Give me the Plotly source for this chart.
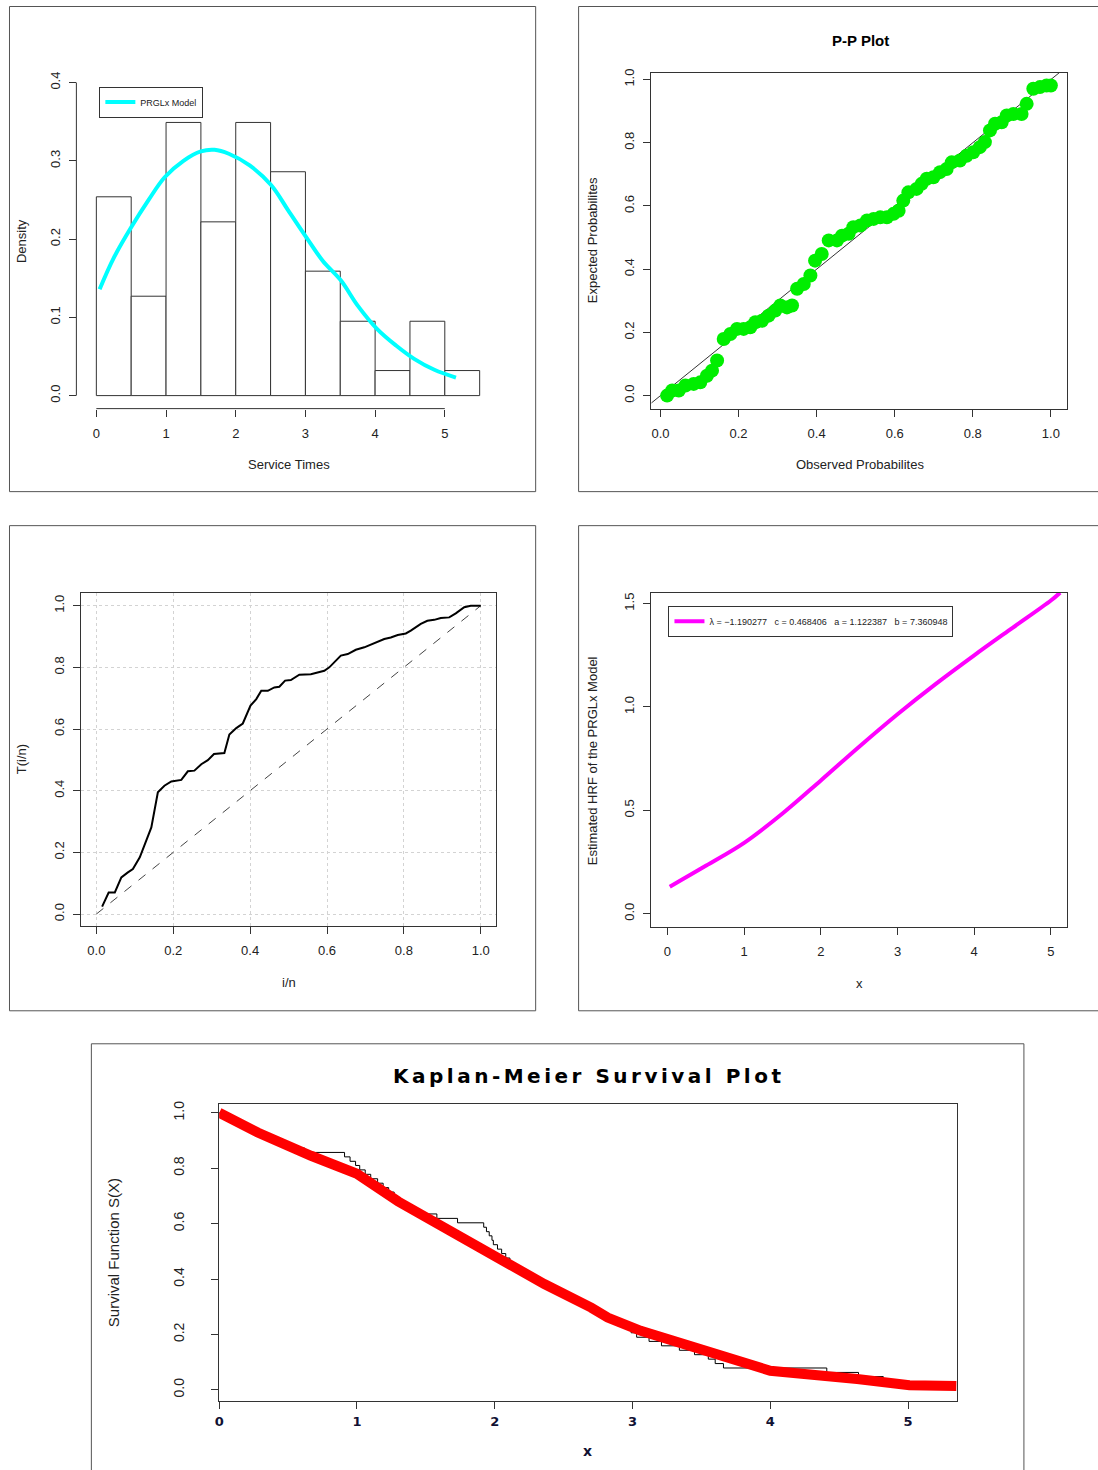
import plotly.graph_objects as go

W, H = 1098, 1470

# ---------------- data ----------------
# Histogram (Service Times), bin width 0.5
hist_left = [0.0, 0.5, 1.0, 1.5, 2.0, 2.5, 3.0, 3.5, 4.0, 4.5, 5.0]
hist_density = [0.254, 0.127, 0.349, 0.222, 0.349, 0.286, 0.159, 0.095, 0.032, 0.095, 0.032]
pdf_x = [0.047, 0.25, 0.5, 0.75, 0.98, 1.25, 1.5, 1.695, 1.9, 2.2, 2.507, 2.75, 3.03, 3.25, 3.51, 3.75, 4.03, 4.3, 4.56, 4.85, 5.16]
pdf_y = [0.136, 0.176, 0.215, 0.250, 0.279, 0.300, 0.312, 0.314, 0.309, 0.294, 0.269, 0.237, 0.200, 0.172, 0.147, 0.115, 0.085, 0.064, 0.047, 0.033, 0.023]

# P-P plot
pp_obs = [0.017, 0.030, 0.047, 0.064, 0.085, 0.102, 0.119, 0.132, 0.145, 0.162, 0.179, 0.196, 0.213,
          0.230, 0.243, 0.260, 0.277, 0.294, 0.307, 0.324, 0.337, 0.350, 0.367, 0.384, 0.396, 0.413,
          0.431, 0.452, 0.465, 0.482, 0.494, 0.512, 0.529, 0.546, 0.563, 0.580, 0.597, 0.610, 0.622,
          0.635, 0.656, 0.669, 0.682, 0.699, 0.716, 0.733, 0.746, 0.767, 0.784, 0.801, 0.818, 0.831,
          0.844, 0.857, 0.874, 0.887, 0.904, 0.925, 0.938, 0.955, 0.972, 0.989, 1.000]
pp_exp = [0.000, 0.016, 0.016, 0.032, 0.037, 0.042, 0.063, 0.079, 0.111, 0.179, 0.195, 0.211, 0.211,
          0.216, 0.232, 0.237, 0.253, 0.269, 0.285, 0.279, 0.285, 0.338, 0.353, 0.380, 0.427, 0.448,
          0.491, 0.491, 0.506, 0.512, 0.533, 0.538, 0.554, 0.559, 0.564, 0.564, 0.575, 0.585, 0.617,
          0.643, 0.654, 0.670, 0.686, 0.691, 0.707, 0.717, 0.738, 0.744, 0.759, 0.770, 0.786, 0.802,
          0.839, 0.860, 0.865, 0.886, 0.891, 0.891, 0.923, 0.971, 0.976, 0.981, 0.981]
diag_ends = [-0.1, 1.1]

# TTT plot
ttt_x = [0.015, 0.032, 0.048, 0.065, 0.082, 0.095, 0.113, 0.130, 0.143, 0.160, 0.177, 0.195, 0.221,
         0.238, 0.255, 0.273, 0.290, 0.306, 0.333, 0.346, 0.364, 0.381, 0.401, 0.416, 0.429, 0.446,
         0.463, 0.476, 0.491, 0.506, 0.528, 0.558, 0.580, 0.593, 0.606, 0.636, 0.654, 0.675, 0.697,
         0.714, 0.732, 0.749, 0.766, 0.784, 0.805, 0.818, 0.844, 0.861, 0.879, 0.896, 0.918, 0.935,
         0.957, 0.974, 1.000]
ttt_y = [0.024, 0.070, 0.070, 0.119, 0.135, 0.146, 0.184, 0.238, 0.281, 0.395, 0.416, 0.430, 0.435,
         0.463, 0.465, 0.486, 0.499, 0.519, 0.522, 0.582, 0.603, 0.618, 0.676, 0.697, 0.724, 0.724,
         0.735, 0.737, 0.757, 0.759, 0.776, 0.778, 0.786, 0.789, 0.800, 0.838, 0.843, 0.857, 0.865,
         0.874, 0.881, 0.892, 0.897, 0.905, 0.910, 0.919, 0.941, 0.951, 0.954, 0.960, 0.962, 0.975,
         0.995, 1.000, 1.000]
ttt_ref = [0.0, 1.0]

# Hazard rate function
hrf_x = [0.03, 0.5, 1.0, 1.5, 2.0, 2.5, 3.0, 3.5, 4.0, 4.5, 5.0, 5.12]
hrf_y = [0.131, 0.232, 0.343, 0.485, 0.645, 0.808, 0.965, 1.112, 1.250, 1.383, 1.515, 1.553]
hrf_label = "λ = −1.190277   c = 0.468406   a = 1.122387   b = 7.360948"

# Kaplan-Meier (empirical) survival
km_time = [0.00, 0.04, 0.10, 0.16, 0.22, 0.28, 0.32, 0.40, 0.49, 0.62, 0.91, 0.95, 0.99,
           1.02, 1.06, 1.10, 1.15, 1.19, 1.23, 1.27, 1.29, 1.30, 1.40, 1.46,
           1.58, 1.73, 1.92, 1.94, 1.96, 1.98, 1.99,
           2.02, 2.05, 2.08, 2.11, 2.14, 2.19, 2.24, 2.29, 2.35, 2.42, 2.48,
           2.54, 2.59, 2.64, 2.70, 2.76, 2.82, 2.89, 2.95, 2.99,
           3.03, 3.12, 3.21, 3.34, 3.45, 3.55, 3.60, 3.66,
           4.41, 4.64, 4.82, 4.95, 5.14]
km_surv = [1.000, 0.984, 0.968, 0.952, 0.937, 0.921, 0.905, 0.889, 0.873, 0.857, 0.841, 0.825, 0.810,
           0.794, 0.778, 0.762, 0.746, 0.730, 0.714, 0.698, 0.683, 0.667, 0.651, 0.635,
           0.619, 0.603, 0.587, 0.571, 0.556, 0.540, 0.524,
           0.508, 0.492, 0.476, 0.460, 0.444, 0.429, 0.413, 0.397, 0.381, 0.365, 0.349,
           0.333, 0.317, 0.302, 0.286, 0.270, 0.254, 0.238, 0.222, 0.206,
           0.190, 0.175, 0.159, 0.143, 0.127, 0.111, 0.095, 0.079,
           0.063, 0.048, 0.032, 0.016, 0.000]
fit_x = [0.0, 0.28, 0.667, 1.0, 1.3, 1.63, 2.0, 2.36, 2.70, 2.82, 3.06, 3.66, 4.0, 4.63, 5.01, 5.35]
fit_y = [1.0, 0.929, 0.845, 0.780, 0.680, 0.586, 0.478, 0.382, 0.297, 0.261, 0.213, 0.117, 0.069, 0.039, 0.017, 0.014]

# tick labels
hist_xticks = [0, 1, 2, 3, 4, 5]
hist_yticks = [0.0, 0.1, 0.2, 0.3, 0.4]
prob_ticks = [0.0, 0.2, 0.4, 0.6, 0.8, 1.0]
hrf_xticks = [0, 1, 2, 3, 4, 5]
hrf_yticks = [0.0, 0.5, 1.0, 1.5]
km_xticks = [0, 1, 2, 3, 4, 5]
km_yticks = [0.0, 0.2, 0.4, 0.6, 0.8, 1.0]

# ---------------- helpers ----------------
# small correction of the page placement observed in the rendered screenshot
OFF, SC = 3.5, 0.997

def fx(px):
    return ((px - OFF) / SC) / W

def fy(py):
    return 1 - ((py - OFF) / SC) / H

def rng(p_lo, p_hi, p0, unit):
    return [(p_lo - p0) / unit, (p_hi - p0) / unit]

def rngy(py_bottom, py_top, p0, unit):
    return [(p0 - py_bottom) / unit, (p0 - py_top) / unit]

FONT = "Liberation Sans, Arial, sans-serif"
TXT = "#222222"
tickfont = dict(family=FONT, size=13, color=TXT)

fig = go.Figure()

# ---- Panel 1: histogram ----
fig.add_trace(go.Bar(x=[v + 0.25 for v in hist_left], y=hist_density, width=0.5,
                     marker=dict(color="white", line=dict(color="#333333", width=1)),
                     showlegend=False, xaxis="x", yaxis="y"))
fig.add_trace(go.Scatter(x=pdf_x, y=pdf_y, mode="lines", line=dict(color="#00FFFF", width=4, shape="spline"),
                         name="PRGLx Model", legend="legend", xaxis="x", yaxis="y"))

# ---- Panel 2: P-P ----
fig.add_trace(go.Scatter(x=diag_ends, y=diag_ends, mode="lines", line=dict(color="#333333", width=1),
                         showlegend=False, xaxis="x2", yaxis="y2"))
fig.add_trace(go.Scatter(x=pp_obs, y=pp_exp, mode="markers",
                         marker=dict(color="#00EE00", size=14, line=dict(width=0)),
                         showlegend=False, xaxis="x2", yaxis="y2"))

# ---- Panel 3: TTT ----
fig.add_trace(go.Scatter(x=ttt_ref, y=ttt_ref, mode="lines", line=dict(color="#444444", width=1, dash="dash"),
                         showlegend=False, xaxis="x3", yaxis="y3"))
fig.add_trace(go.Scatter(x=ttt_x, y=ttt_y, mode="lines", line=dict(color="#000000", width=2),
                         showlegend=False, xaxis="x3", yaxis="y3"))

# ---- Panel 4: HRF ----
fig.add_trace(go.Scatter(x=hrf_x, y=hrf_y, mode="lines", line=dict(color="#FF00FF", width=4, shape="spline"),
                         name=hrf_label, legend="legend2", xaxis="x4", yaxis="y4"))

# ---- Panel 5: KM ----
fig.add_trace(go.Scatter(x=km_time, y=km_surv, mode="lines", line=dict(color="#000000", width=1, shape="hv"),
                         showlegend=False, xaxis="x5", yaxis="y5"))
fig.add_trace(go.Scatter(x=fit_x, y=fit_y, mode="lines", line=dict(color="#FF0000", width=10),
                         showlegend=False, xaxis="x5", yaxis="y5"))

common_ax = dict(showgrid=False, zeroline=False, ticks="outside", ticklen=7, tickwidth=1,
                 tickcolor="#333333", tickfont=tickfont)
box_ax = dict(common_ax, showline=True, mirror=True, linecolor="#333333", linewidth=1)

layout = dict(
    width=W, height=H, margin=dict(l=0, r=0, t=0, b=0),
    paper_bgcolor="white", plot_bgcolor="white",
    font=dict(family=FONT, color=TXT),
    bargap=0,
    hovermode=False,
    # panel 1
    xaxis=dict(common_ax, domain=[fx(75), fx(490)], range=rng(75, 490, 95, 69.8),
               anchor="free", position=fy(408), tickvals=hist_xticks, showline=False,
               ticklabelstandoff=6),
    yaxis=dict(common_ax, domain=[fy(410), fy(70)], range=rngy(410, 70, 395, 782.5),
               anchor="free", position=fx(75), tickvals=hist_yticks, tickformat=".1f", tickangle=-90,
               showline=False, ticklabelstandoff=4),
    # panel 2
    xaxis2=dict(box_ax, domain=[fx(651), fx(1067)], range=rng(651, 1067, 660, 391),
                anchor="y2", tickvals=prob_ticks, tickformat=".1f", ticklabelstandoff=6),
    yaxis2=dict(box_ax, domain=[fy(408), fy(72)], range=rngy(408, 72, 395, 316),
                anchor="x2", tickvals=prob_ticks, tickformat=".1f", tickangle=-90, ticklabelstandoff=4),
    # panel 3
    xaxis3=dict(box_ax, domain=[fx(80), fx(495)], range=rng(80, 495, 95, 385),
                anchor="y3", tickvals=prob_ticks, tickformat=".1f", ticklabelstandoff=6,
                showgrid=True, gridcolor="#D3D3D3", griddash="dot", gridwidth=1),
    yaxis3=dict(box_ax, domain=[fy(925), fy(592)], range=rngy(925, 592, 913.3, 308.3),
                anchor="x3", tickvals=prob_ticks, tickformat=".1f", tickangle=-90, ticklabelstandoff=4,
                showgrid=True, gridcolor="#D3D3D3", griddash="dot", gridwidth=1),
    # panel 4
    xaxis4=dict(box_ax, domain=[fx(651), fx(1067)], range=rng(651, 1067, 667, 76.8),
                anchor="y4", tickvals=hrf_xticks, ticklabelstandoff=6),
    yaxis4=dict(box_ax, domain=[fy(926), fy(592)], range=rngy(926, 592, 913, 206.7),
                anchor="x4", tickvals=hrf_yticks, tickformat=".1f", tickangle=-90, ticklabelstandoff=4),
    # panel 5
    xaxis5=dict(box_ax, domain=[fx(218), fx(957)], range=rng(218, 957, 218, 138),
                anchor="y5", tickvals=km_xticks, ticklabelstandoff=2,
                tickfont=dict(family="DejaVu Sans, sans-serif", size=13, color="#111133", weight="bold")),
    yaxis5=dict(box_ax, domain=[fy(1400), fy(1103)], range=rngy(1400, 1103, 1389, 277),
                anchor="x5", tickvals=km_yticks, tickformat=".1f", tickangle=-90, ticklabelstandoff=22,
                tickfont=dict(family=FONT, size=14, color=TXT)),
    legend=dict(x=fx(98), y=fy(86), xanchor="left", yanchor="top",
                bordercolor="#333333", borderwidth=1, bgcolor="white",
                font=dict(family=FONT, size=9, color=TXT), itemwidth=30,
                tracegroupgap=0),
    legend2=dict(x=fx(668), y=fy(605), xanchor="left", yanchor="top",
                 bordercolor="#333333", borderwidth=1, bgcolor="white",
                 font=dict(family=FONT, size=9, color=TXT), itemwidth=30),
)
fig.update_layout(**layout)

# axis lines for histogram panel (R style: span first to last tick)
shapes = [
    dict(type="line", xref="x", yref="paper", x0=hist_xticks[0], x1=hist_xticks[-1],
         y0=fy(408), y1=fy(408), line=dict(color="#333333", width=1)),
    dict(type="line", xref="paper", yref="y", x0=fx(75), x1=fx(75),
         y0=hist_yticks[0], y1=hist_yticks[-1], line=dict(color="#333333", width=1)),
]
# outer panel frames
frames = [(8, 6, 535, 491), (578, 6, 1110, 491), (8, 525, 535, 1010), (578, 525, 1110, 1010),
          (90, 1043, 1024, 1480)]
for (a, b, c, d) in frames:
    shapes.append(dict(type="rect", xref="paper", yref="paper", x0=fx(a), x1=fx(c), y0=fy(d), y1=fy(b),
                       line=dict(color="#555555", width=1), fillcolor="rgba(0,0,0,0)", layer="below"))
fig.update_layout(shapes=shapes)

ann = []
def label(text, px, py, angle=0, size=13, bold=False, family=FONT, color=TXT):
    ann.append(dict(text=f"<b>{text}</b>" if bold else text, x=fx(px), y=fy(py), xref="paper", yref="paper",
                    showarrow=False, textangle=angle, xanchor="center", yanchor="middle",
                    font=dict(family=family, size=size, color=color)))

label("Density", 20, 240, angle=-90)
label("Service Times", 288, 464)
label("P-P Plot", 860, 40, size=15, bold=True, color="#000000")
label("Expected Probabilites", 592, 240, angle=-90)
label("Observed Probabilites", 860, 464)
label("T(i/n)", 20, 758, angle=-90)
label("i/n", 288, 982)
label("Estimated HRF of the PRGLx Model", 592, 760, angle=-90)
label("x", 859, 983)
label('<span style="letter-spacing:3.5px">Kaplan-Meier Survival Plot</span>', 588, 1075, size=20, bold=True,
      family="DejaVu Sans, sans-serif", color="#000000")
label("Survival Function S(X)", 113, 1252, angle=-90, size=15, family=FONT)
label("x", 587, 1450, size=14, bold=True, family="DejaVu Sans, sans-serif", color="#111133")
fig.update_layout(annotations=ann)

fig.write_html("out.html", config={"displayModeBar": False, "staticPlot": True},
               post_script="document.body.style.margin='0';document.body.style.padding='0';"
                           "document.documentElement.style.overflow='hidden';")
